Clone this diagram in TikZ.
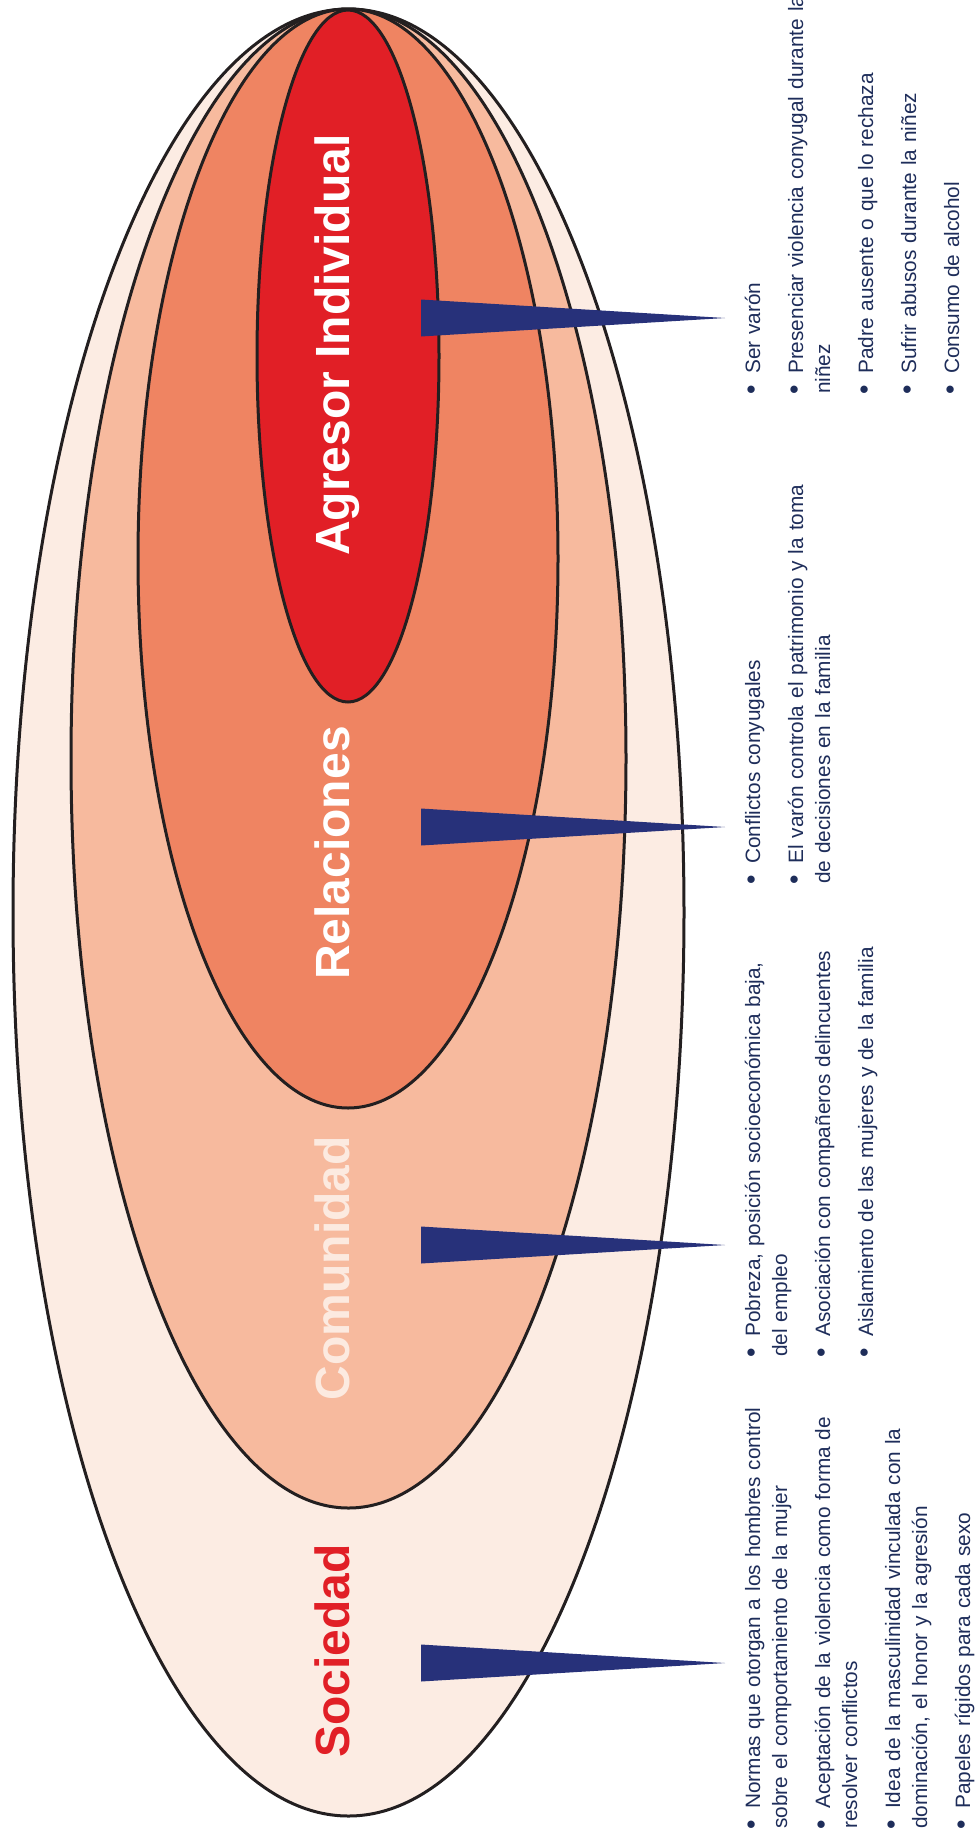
\documentclass[tikz,border=0pt]{standalone}
\usepackage{fontspec}
\setmainfont{Liberation Sans}

\definecolor{tinta}{RGB}{35,31,32}
\definecolor{capasoc}{RGB}{252,236,227}
\definecolor{capacom}{RGB}{247,186,158}
\definecolor{caparel}{RGB}{239,132,98}
\definecolor{capaind}{RGB}{225,31,38}
\definecolor{rotulocom}{RGB}{252,234,224}
\definecolor{azul}{RGB}{39,49,122}
\definecolor{texto}{RGB}{30,45,90}

\newcommand{\vineta}[1]{\noindent\hangindent=20pt\hangafter=1\makebox[20pt][l]{\hspace{-1pt}\fontsize{27}{27}\selectfont\textbullet}#1\par\vspace{16pt}}

\begin{document}
\begin{tikzpicture}[
    x=1pt, y=-1pt,
    capa/.style={draw=tinta, line width=3pt},
    rotulo/.style={rotate=90, anchor=base, inner sep=0pt, font=\bfseries\fontsize{48}{48}\selectfont},
    lista/.style={rotate=90, anchor=base west, inner sep=0pt, text width=430pt, text=texto, font=\fontsize{20.8}{27}\selectfont},
    cuna/.style={fill=azul}
]
    \useasboundingbox (0,0) rectangle (978,1832);

    \draw [capa, fill=capasoc] (348.5,912.5) ellipse [x radius=335.5pt, y radius=903.5pt];
    \draw [capa, fill=capacom] (348.5,758.5) ellipse [x radius=277.5pt, y radius=749.5pt];
    \draw [capa, fill=caparel] (348,558.5) ellipse [x radius=210pt, y radius=549.5pt];
    \draw [capa, fill=capaind] (348,356) ellipse [x radius=91pt, y radius=346pt];

    \node (agresor) [rotulo, text=white] at (349,345) {Agresor Individual};
    \node (relaciones) [rotulo, text=white] at (349,853) {Relaciones};
    \node (comunidad) [rotulo, text=rotulocom] at (349,1268) {Comunidad};
    \node (sociedad) [rotulo, text=capaind] at (349,1651) {Sociedad};

    \coordinate (baseind) at (421,318);
    \coordinate (puntaind) at (725,318);
    \coordinate (baserel) at (421,827);
    \coordinate (puntarel) at (725,827);
    \coordinate (basecom) at (421,1245);
    \coordinate (puntacom) at (725,1245);
    \coordinate (basesoc) at (421,1663);
    \coordinate (puntasoc) at (725,1663);

    \fill [cuna] ([yshift=18.5pt]baseind) -- (puntaind) -- ([yshift=-18.5pt]baseind) -- cycle;
    \fill [cuna] ([yshift=18.5pt]baserel) -- (puntarel) -- ([yshift=-18.5pt]baserel) -- cycle;
    \fill [cuna] ([yshift=18.5pt]basecom) -- (puntacom) -- ([yshift=-18.5pt]basecom) -- cycle;
    \fill [cuna] ([yshift=18.5pt]basesoc) -- (puntasoc) -- ([yshift=-18.5pt]basesoc) -- cycle;

    \node (listaind) [lista] at (760,394) {%
        \vineta{Ser varón}%
        \vineta{Presenciar violencia conyugal durante la\\niñez}%
        \vineta{Padre ausente o que lo rechaza}%
        \vineta{Sufrir abusos durante la niñez}%
        \vineta{Consumo de alcohol}};
    \node (listarel) [lista] at (760,884) {%
        \vineta{Conflictos conyugales}%
        \vineta{El varón controla el patrimonio y la toma\\de decisiones en la familia}};
    \node (listacom) [lista] at (760,1357) {%
        \vineta{Pobreza, posición socioeconómica baja,\\del empleo}%
        \vineta{Asociación con compañeros delincuentes}%
        \vineta{Aislamiento de las mujeres y de la familia}};
    \node (listasoc) [lista] at (760,1829) {%
        \vineta{Normas que otorgan a los hombres control\\sobre el comportamiento de la mujer}%
        \vineta{Aceptación de la violencia como forma de\\resolver conflictos}%
        \vineta{Idea de la masculinidad vinculada con la\\dominación, el honor y la agresión}%
        \vineta{Papeles rígidos para cada sexo}};
\end{tikzpicture}
\end{document}
